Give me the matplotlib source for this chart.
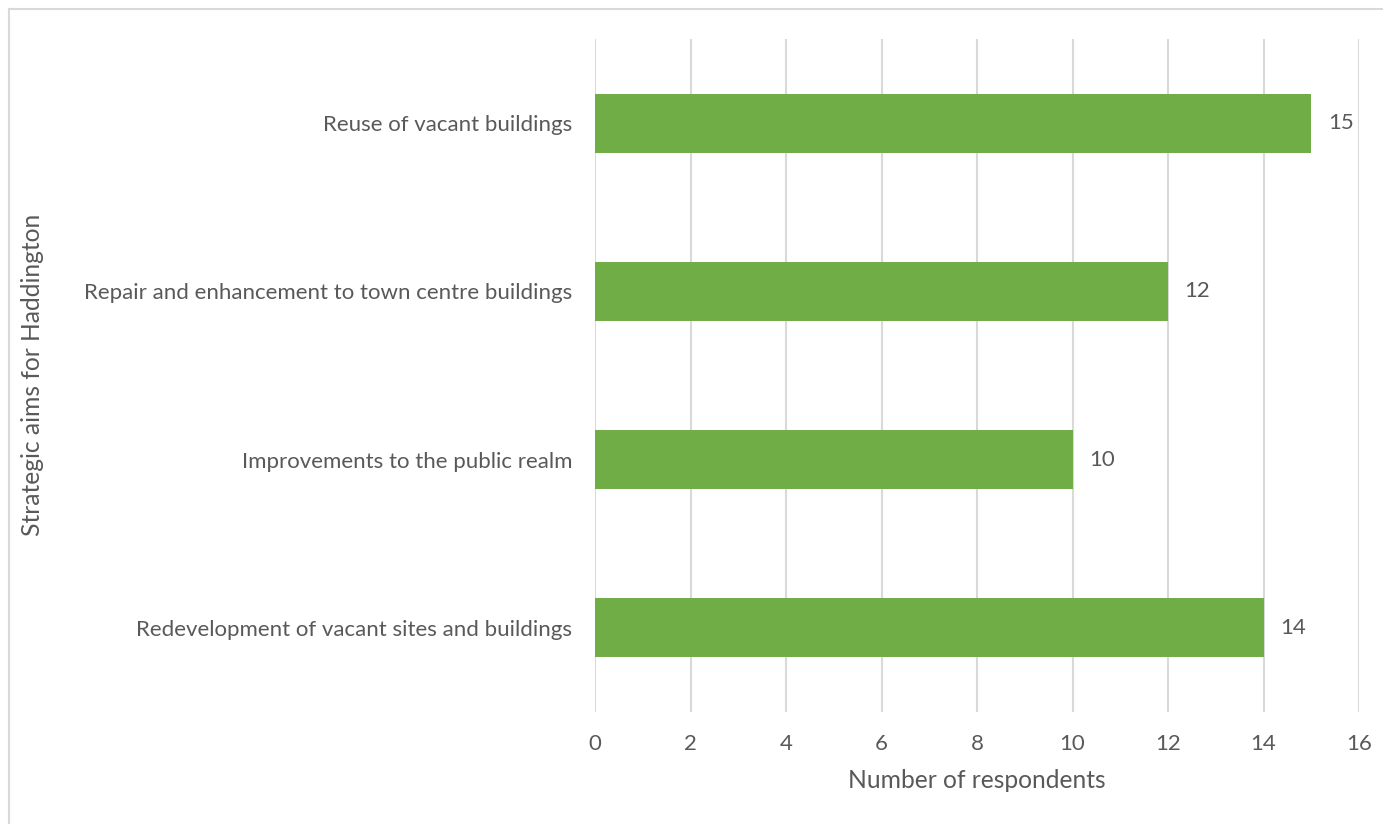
import matplotlib
matplotlib.use("Agg")
import matplotlib.pyplot as plt
from matplotlib.lines import Line2D

categories = [
    "Redevelopment of vacant sites and buildings",
    "Improvements to the public realm",
    "Repair and enhancement to town centre buildings",
    "Reuse of vacant buildings",
]
respondents = [14, 10, 12, 15]
x_ticks = [0, 2, 4, 6, 8, 10, 12, 14, 16]

TEXT = "#595959"
GRID = "#D9D9D9"
BAR = "#70AD47"

plt.rcParams["font.family"] = ["Lato", "DejaVu Sans"]

fig = plt.figure(figsize=(13.83, 8.24), dpi=100)
ax = fig.add_axes([595 / 1383, 1 - 712 / 824, (1359 - 595) / 1383, (712 - 39) / 824])

pos = list(range(len(categories)))
bars = ax.barh(pos, respondents, height=0.35, color=BAR, zorder=3)

ax.set_xlim(0, 16)
ax.set_ylim(-0.5, len(categories) - 0.5)
ax.set_xticks(x_ticks)
ax.set_xticklabels([str(t) for t in x_ticks])
ax.set_yticks(pos)
ax.set_yticklabels(categories)

ax.grid(axis="x", color=GRID, linewidth=1.5, zorder=0)
ax.grid(axis="y", visible=False)
for s in ax.spines.values():
    s.set_visible(False)
ax.tick_params(axis="both", length=0, colors=TEXT, labelsize=16)
ax.tick_params(axis="y", pad=16.5)
ax.tick_params(axis="x", pad=16)

for b, v in zip(bars, respondents):
    ax.annotate(str(v), xy=(v, b.get_y() + b.get_height() / 2),
                xytext=(12, 0), textcoords="offset points",
                va="center", ha="left", color=TEXT, fontsize=16)

fig.text(977 / 1383, 1 - 781 / 824, "Number of respondents", ha="center",
         va="center", color=TEXT, fontsize=17.7)
fig.text(33 / 1383, 1 - 375 / 824, "Strategic aims for Haddington", ha="center",
         va="center", rotation=90, color=TEXT, fontsize=17.7)

# chart frame (top and left edges inside the canvas)
fig.add_artist(Line2D([9 / 1383, 9 / 1383], [0, 1 - 9 / 824],
                      transform=fig.transFigure, color=GRID, linewidth=1.5))
fig.add_artist(Line2D([9 / 1383, 1], [1 - 9 / 824, 1 - 9 / 824],
                      transform=fig.transFigure, color=GRID, linewidth=1.5))

fig.savefig("out.png", dpi=100, facecolor="white")
